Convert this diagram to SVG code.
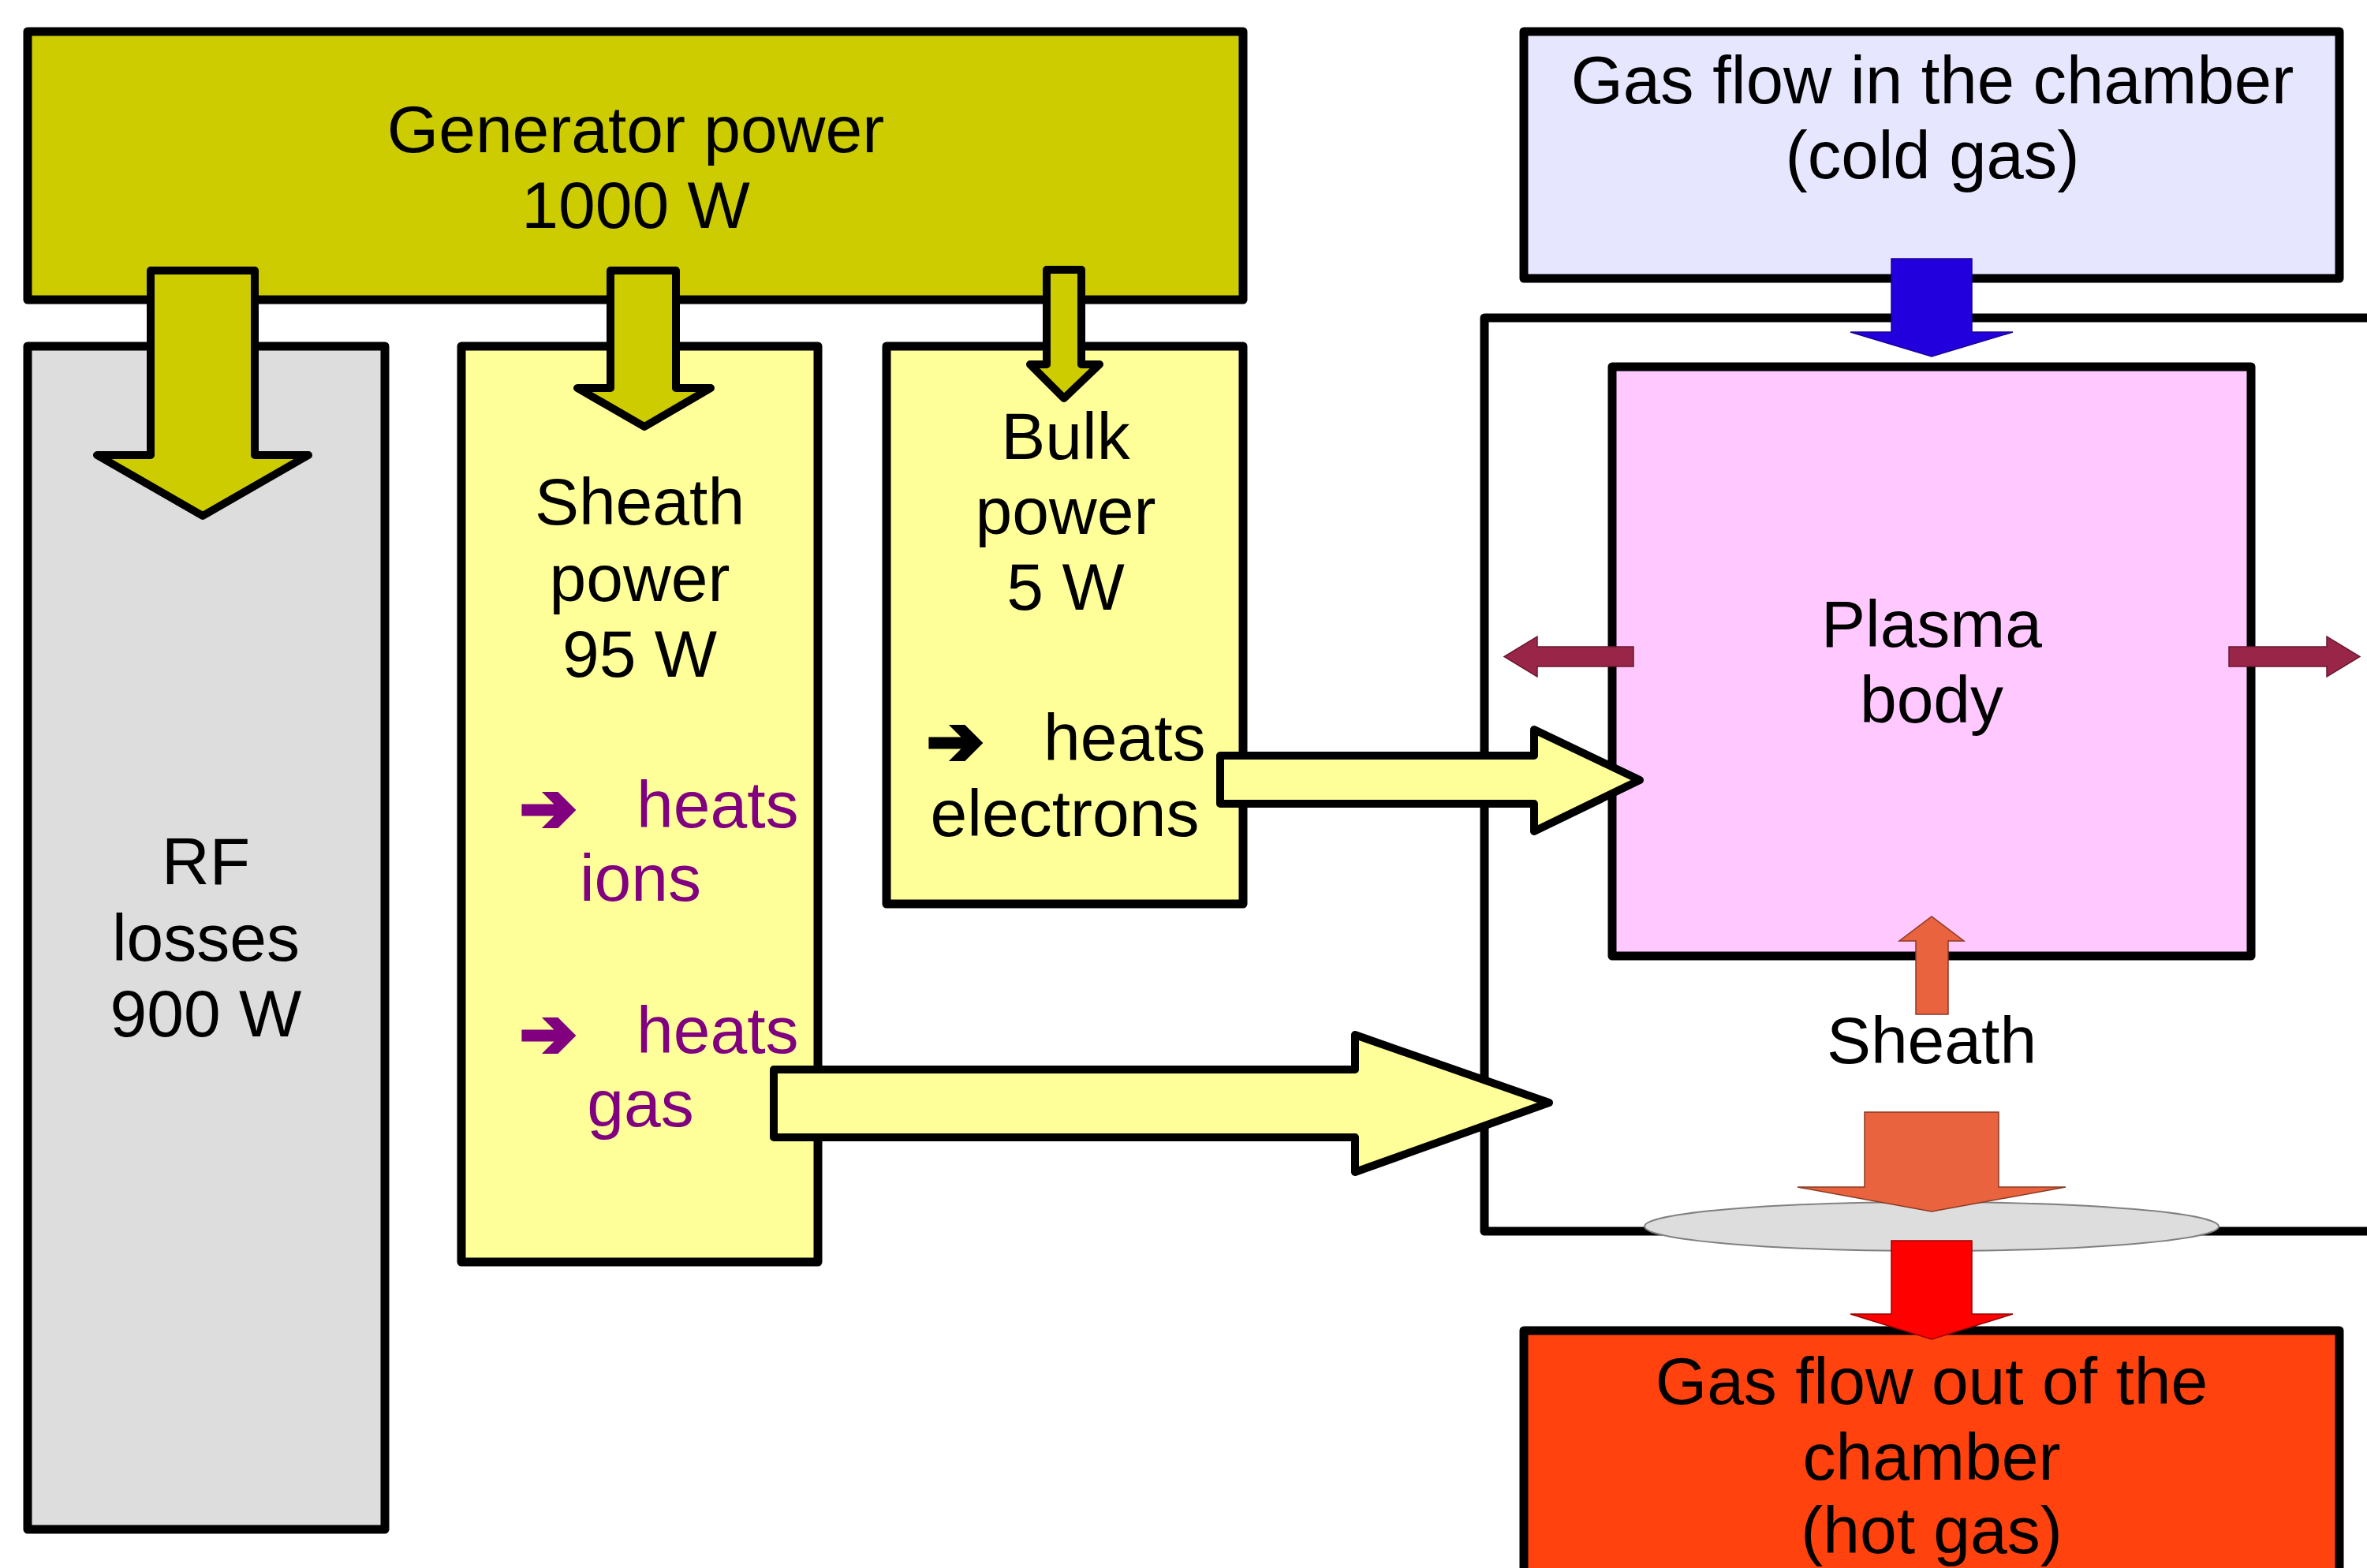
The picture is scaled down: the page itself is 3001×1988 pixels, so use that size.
<svg xmlns="http://www.w3.org/2000/svg" width="3001" height="1988" viewBox="0 0 3001 1988">
<style>
.box{stroke:#000;stroke-width:11;stroke-linejoin:round}
.t{font-family:"Liberation Sans",Arial,sans-serif;font-size:84px;fill:#000;text-anchor:middle}
.s{text-anchor:start}
.p{fill:#800080}
.bul{font-family:"DejaVu Sans",sans-serif;font-size:86px;font-weight:bold;stroke-width:5;stroke-linejoin:miter}
.garr{fill:#CCCC00;stroke:#000;stroke-width:10;stroke-linejoin:round}
.yarr{fill:#FFFF99;stroke:#000;stroke-width:10;stroke-linejoin:round}
</style>
<rect width="3001" height="1988" fill="#fff"/>
<g id="generator"><rect class="box" x="35" y="40" width="1541" height="340" fill="#CCCC00"/>
<text class="t" x="806" y="193">Generator power</text><text class="t" x="806" y="289">1000 W</text></g>
<g id="rf-losses"><rect class="box" x="35" y="439" width="453" height="1500" fill="#DDDDDD"/>
<text class="t" x="261" y="1121">RF</text><text class="t" x="261" y="1218">losses</text><text class="t" x="261" y="1314">900 W</text></g>
<g id="sheath-power"><rect class="box" x="585" y="439" width="452" height="1161" fill="#FFFF99"/>
<text class="t" x="811" y="665">Sheath</text><text class="t" x="811" y="762">power</text><text class="t" x="811" y="858">95 W</text>
<text class="bul p" x="659" y="1054" stroke="#800080">➔</text><text class="t s p" x="807" y="1049">heats</text>
<text class="t p" x="812" y="1142">ions</text>
<text class="bul p" x="659" y="1340" stroke="#800080">➔</text><text class="t s p" x="807" y="1335">heats</text>
<text class="t p" x="812" y="1428">gas</text></g>
<g id="bulk-power"><rect class="box" x="1124" y="439" width="452" height="707" fill="#FFFF99"/>
<text class="t" x="1351" y="582">Bulk</text><text class="t" x="1351" y="677">power</text><text class="t" x="1351" y="773">5 W</text>
<text class="bul" x="1175" y="969" stroke="#000">➔</text><text class="t s" x="1323" y="964">heats</text>
<text class="t" x="1350" y="1060">electrons</text></g>
<g id="gas-in"><rect class="box" x="1932" y="40" width="1034" height="313" fill="#E6E6FF"/>
<text class="t" x="2450" y="131" style="font-size:85px">Gas flow in the chamber</text><text class="t" x="2450" y="226" style="font-size:85px">(cold gas)</text></g>
<g id="chamber"><path d="M3015 403 H1882 V1561 H3015" fill="none" stroke="#000" stroke-width="11" stroke-linejoin="round"/></g>
<g id="plasma"><rect class="box" x="2044" y="465" width="810" height="747" fill="#FFC8FF"/>
<text class="t" x="2449" y="820">Plasma</text><text class="t" x="2449" y="916">body</text></g>
<g id="sheath-label"><text class="t" x="2449" y="1348">Sheath</text></g>
<g id="gas-out"><rect class="box" x="1932" y="1687" width="1034" height="420" fill="#FF420E"/>
<text class="t" x="2449" y="1780">Gas flow out of the</text><text class="t" x="2449" y="1876">chamber</text><text class="t" x="2449" y="1969">(hot gas)</text></g>
<g id="connectors">
<polygon class="garr" points="191,343 323,343 323,577 391,577 257,654 123,577 191,577"/>
<polygon class="garr" points="774,343 857,343 857,492 901,492 817,541 732,492 774,492"/>
<polygon class="garr" points="1327,342 1371,342 1371,462 1394,462 1349,505 1306,462 1327,462"/>
<polygon class="yarr" points="1547,958 1945,958 1945,925 2079,989 1945,1054 1945,1019 1547,1019"/>
<polygon class="yarr" points="981,1356 1718,1356 1718,1312 1964,1398 1718,1486 1718,1442 981,1442"/>
<polygon points="2398,328 2500,328 2500,421 2552,421 2449,452 2346,421 2398,421" fill="#2200DD" stroke="#1a0099" stroke-width="1.5"/>
<polygon points="2071,820 1949,820 1949,807 1907,832.5 1949,858 1949,845 2071,845" fill="#992648" stroke="#6a1830" stroke-width="1.5"/>
<polygon points="2826,820 2950,820 2950,807 2992,832.5 2950,858 2950,845 2826,845" fill="#992648" stroke="#6a1830" stroke-width="1.5"/>
<polygon points="2429,1286 2470,1286 2470,1193 2490,1193 2449,1162 2408,1193 2429,1193" fill="#E9633F" stroke="#8a3a25" stroke-width="1.5"/>
<ellipse cx="2449" cy="1555" rx="364" ry="31" fill="#DDDDDD" stroke="#808080" stroke-width="2"/>
<polygon points="2364,1410 2534,1410 2534,1505 2619,1505 2449,1536 2279,1505 2364,1505" fill="#E9633F" stroke="#8a3a25" stroke-width="1.5"/>
<polygon points="2398,1573 2500,1573 2500,1666 2552,1666 2449,1698 2346,1666 2398,1666" fill="#FF0000" stroke="#990000" stroke-width="1.5"/>
</g>
</svg>
